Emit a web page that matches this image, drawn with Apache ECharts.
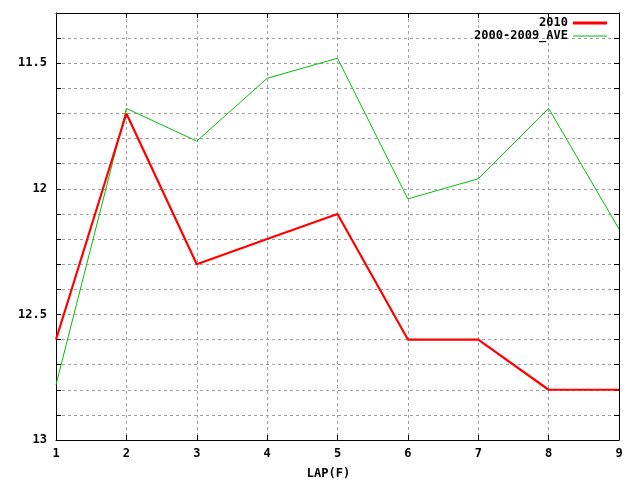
<!DOCTYPE html>
<html><head><meta charset="utf-8">
<script src="https://cdn.jsdelivr.net/npm/echarts@6/dist/echarts.min.js"></script>
<style>html,body{margin:0;padding:0;background:#fff}#c{width:640px;height:480px}</style>
</head><body><div id="c"></div>
<script>
const laps = [1, 2, 3, 4, 5, 6, 7, 8, 9];
const s2010 = [12.6, 11.7, 12.3, 12.2, 12.1, 12.6, 12.6, 12.8, 12.8];
const sAve = [12.78, 11.68, 11.81, 11.56, 11.48, 12.04, 11.96, 11.68, 12.16];
const yLabels = [11.5, 12, 12.5, 13];
const names = ['2010', '2000-2009_AVE'];

const font = 'DejaVu Sans Mono';
const txt = {fontFamily: font, fontWeight: 'bold', fontSize: 12, color: '#000'};
const chart = echarts.init(document.getElementById('c'), null, {renderer: 'canvas'});
const pairs = a => laps.map((x, i) => [x, a[i]]);
const axLine = {show: true, lineStyle: {color: '#000', width: 1}};
const grid = {show: true, lineStyle: {color: '#a0a0a0', type: [3, 3], width: 1}};
const legendBase = {orient: 'vertical', align: 'right', itemWidth: 34, textStyle: txt, padding: 0, itemGap: 0, icon: 'rect'};
chart.setOption({
  animation: false,
  grid: {left: 56, right: 21, top: 13, bottom: 40, containLabel: false, outerBoundsMode: 'none'},
  legend: [
    Object.assign({data: [names[0]], right: 33, top: 17, itemHeight: 3}, legendBase),
    Object.assign({data: [names[1]], right: 33, top: 30, itemHeight: 1}, legendBase)
  ],
  xAxis: [
    {type: 'value', min: 1, max: 9, interval: 1, position: 'bottom',
     axisLine: axLine, axisTick: {inside: true, length: 5, lineStyle: {color: '#000'}},
     axisLabel: Object.assign({margin: 8}, txt), splitLine: grid,
     name: 'LAP(F)', nameLocation: 'middle', nameGap: 28, nameTextStyle: Object.assign({padding: [0, 18, 0, 0]}, txt)},
    {type: 'value', min: 1, max: 9, interval: 1, position: 'top',
     axisLine: axLine, axisTick: {inside: true, length: 5, lineStyle: {color: '#000'}},
     axisLabel: {show: false}, splitLine: {show: false}}
  ],
  yAxis: [
    {type: 'value', min: 11.3, max: 13, interval: 0.1, inverse: true, position: 'left',
     axisLine: axLine, axisTick: {inside: true, length: 5, lineStyle: {color: '#000'}},
     axisLabel: Object.assign({margin: 9, showMinLabel: true, showMaxLabel: true,
       formatter: v => { const m = yLabels.find(l => Math.abs(l - v) < 1e-6); return m === undefined ? '' : String(m); }}, txt),
     splitLine: grid},
    {type: 'value', min: 11.3, max: 13, interval: 0.1, inverse: true, position: 'right',
     axisLine: axLine, axisTick: {inside: true, length: 5, lineStyle: {color: '#000'}},
     axisLabel: {show: false}, splitLine: {show: false}}
  ],
  series: [
    {name: names[0], type: 'line', data: pairs(s2010), symbol: 'none', color: '#ff0000', lineStyle: {width: 2.2, color: '#ff0000'}, z: 3},
    {name: names[1], type: 'line', data: pairs(sAve), symbol: 'none', color: '#00c000', lineStyle: {width: 1, color: '#00c000'}, z: 2}
  ]
});
</script></body></html>
